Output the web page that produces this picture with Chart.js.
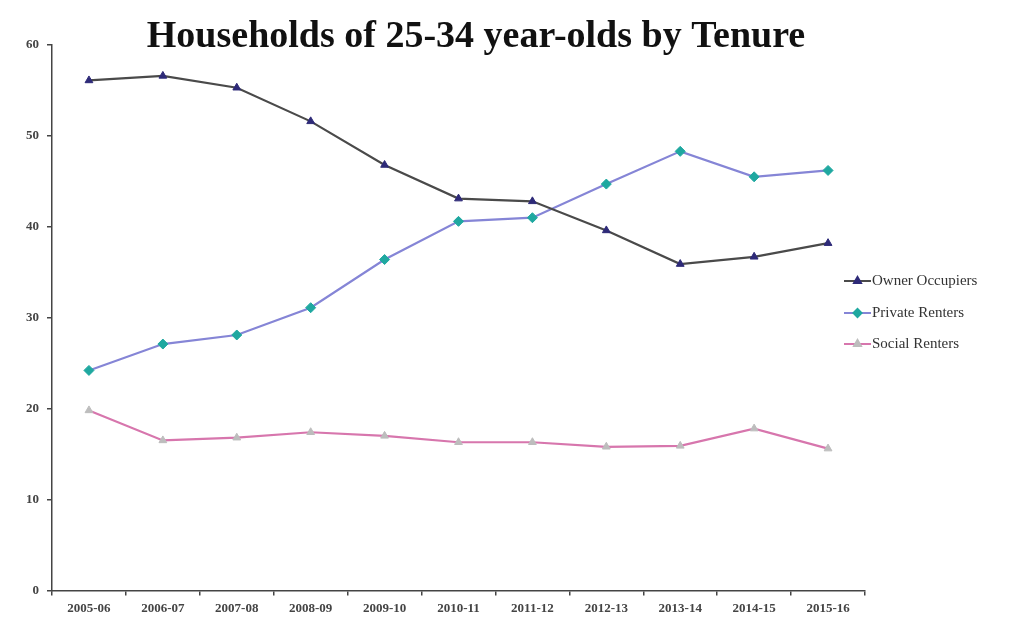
<!DOCTYPE html>
<html><head><meta charset="utf-8">
<script src="https://cdn.jsdelivr.net/npm/chart.js@4/dist/chart.umd.min.js"></script>
<style>html,body{margin:0;padding:0;background:#fff;}#wrap{width:1024px;height:623px;position:relative;}</style>
</head><body><div id="wrap"><canvas id="c" width="1024" height="623"></canvas></div>
<script>
const categories = ["2005-06","2006-07","2007-08","2008-09","2009-10","2010-11","2011-12","2012-13","2013-14","2014-15","2015-16"];
const ownerOccupiers = [56.1,56.6,55.3,51.6,46.8,43.1,42.8,39.6,35.9,36.7,38.2];
const privateRenters = [24.2,27.1,28.1,31.1,36.4,40.6,41.0,44.7,48.3,45.5,46.2];
const socialRenters = [19.8,16.5,16.8,17.4,17.0,16.3,16.3,15.8,15.9,17.8,15.6];
const yTicks = [0,10,20,30,40,50,60];
const titleText = "Households of 25-34 year-olds by Tenure";

const series = [
  {label:"Owner Occupiers", data:ownerOccupiers, line:"#4a4a4a", marker:"#2e2a78", style:"triangle"},
  {label:"Private Renters", data:privateRenters, line:"#8585d6", marker:"#1fa8a0", style:"rectRot"},
  {label:"Social Renters", data:socialRenters, line:"#d776ad", marker:"#bdbdbd", style:"triangle"}
];

const serif = "'Liberation Serif','DejaVu Serif',serif";

const overlay = {
  id:'overlay',
  afterDraw(chart){
    const ctx = chart.ctx;
    ctx.save();
    ctx.fillStyle = "#111";
    ctx.font = "bold 38px " + serif;
    ctx.textAlign = "center";
    ctx.textBaseline = "alphabetic";
    ctx.fillText(titleText, 476, 47);
    // legend
    ctx.font = "15px " + serif;
    ctx.textAlign = "left";
    ctx.textBaseline = "middle";
    const ys = [281,313,344];
    chart.data.datasets.forEach((ds,i)=>{
      const y = ys[i];
      ctx.strokeStyle = ds.borderColor;
      ctx.lineWidth = 2;
      ctx.beginPath(); ctx.moveTo(844,y); ctx.lineTo(871,y); ctx.stroke();
      ctx.fillStyle = ds.pointBackgroundColor;
      ctx.strokeStyle = ds.pointBackgroundColor;
      Chart.helpers.drawPoint(ctx,{pointStyle:ds.pointStyle,radius:4,borderWidth:1},857.5,y);
      ctx.fillStyle = "#333";
      ctx.fillText(ds.label, 872, y);
    });
    ctx.restore();
  }
};

new Chart(document.getElementById('c'), {
  type:'line',
  data:{
    labels:categories,
    datasets:series.map(s=>({
      label:s.label, data:s.data, borderColor:s.line, borderWidth:2.2,
      pointStyle:s.style, pointRadius:s.style==="rectRot"?5:4.5,
      pointBackgroundColor:s.marker, pointBorderColor:s.marker, pointBorderWidth:1,
      tension:0, fill:false
    }))
  },
  options:{
    responsive:false, animation:false, devicePixelRatio:1,
    layout:{padding:{top:45,left:0,right:159,bottom:2}},
    plugins:{legend:{display:false}, title:{display:false}, tooltip:{enabled:false}},
    scales:{
      x:{
        offset:true,
        grid:{offset:true, drawOnChartArea:false, drawTicks:true, tickLength:5, color:"#444", lineWidth:1.5},
        border:{display:true,color:"#444",width:1.5},
        ticks:{color:"#444", font:{family:serif, size:13, weight:"bold"}, padding:5, maxRotation:0, autoSkip:false}
      },
      y:{
        min:0, max:60,
        afterBuildTicks(axis){ axis.ticks = yTicks.map(v=>({value:v})); },
        afterFit(axis){ axis.width = 52; },
        grid:{drawOnChartArea:false, drawTicks:true, tickLength:5, color:"#444", lineWidth:1.5},
        border:{display:true,color:"#444",width:1.5},
        ticks:{color:"#444", font:{family:serif, size:13, weight:"bold"}, padding:8}
      }
    }
  },
  plugins:[overlay]
});
</script></body></html>
